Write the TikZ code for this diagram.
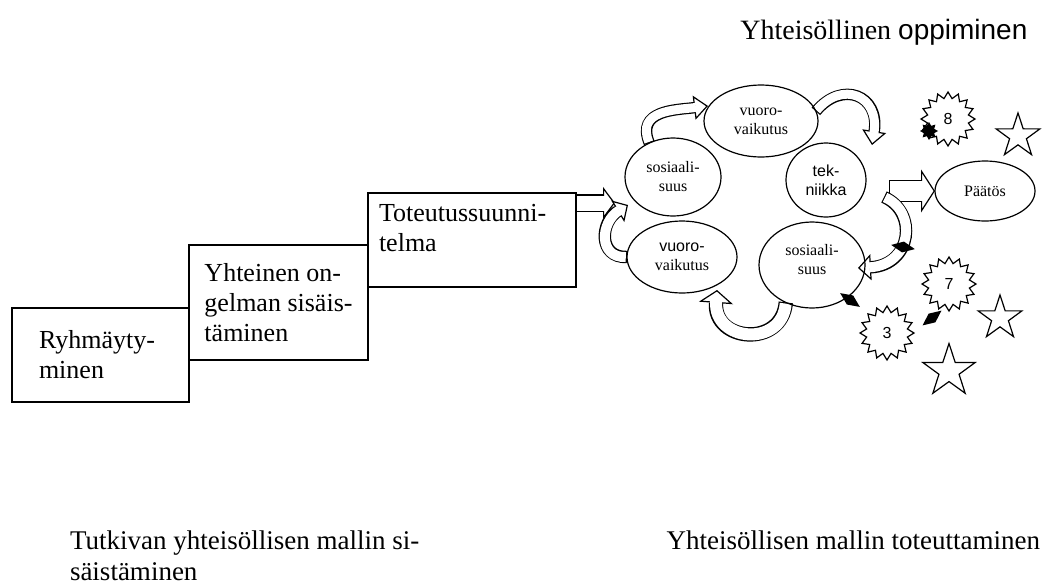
\documentclass[tikz,border=0pt]{standalone}
\usepackage{fontspec}
\setmainfont{Liberation Serif}
\newfontfamily\arial{Liberation Sans}
\usetikzlibrary{shapes.geometric,arrows.meta,backgrounds}

\newcommand{\bigtext}{\fontsize{26}{30}\selectfont}
\newcommand{\smalltext}{\fontsize{16}{19}\selectfont}
\newcommand{\foottext}{\fontsize{27}{31}\selectfont}

% block arrow: inner width, outer width, head width, head length, path
\newcommand{\blockarrow}[5]{%
  \draw[line width=#2, -{Triangle[fill=white, line width=1.2pt, length=#4, width=#3]}] #5;
  \draw[white, line width=#1, shorten <=1.2pt, shorten >=#4-1.8pt] #5;}

\begin{document}
\begin{tikzpicture}[x=1pt, y=-1pt, outer sep=0pt]

\tikzstyle{place}=[draw, rectangle, line width=1.2pt, align=left, anchor=north west, font=\bigtext]
\tikzstyle{cloud}=[draw, ellipse, line width=1.2pt, inner sep=0pt, align=center, font=\smalltext]
\tikzstyle{burst}=[draw, star, star points=16, star point ratio=1.3, line width=1.2pt, minimum size=54pt, inner sep=0pt, font=\arial\smalltext]
\tikzstyle{fivestar}=[draw, star, star points=5, star point ratio=2.6, line width=1.2pt, inner sep=0pt]
\tikzstyle{blackgem}=[fill, diamond, inner sep=0pt, minimum width=24pt, minimum height=11pt]

\useasboundingbox (0,0) rectangle (1049,587);

% steps
\node[place, minimum width=177pt, minimum height=94pt, inner xsep=27pt, text width=123pt] (ryhma) at (12,308) {Ryhmäyty-\\minen};
\node[place, minimum width=179pt, minimum height=115pt] (yhteinen) at (189,245) {Yhteinen on-\\gelman sisäis-\\täminen};
\node[place, minimum width=208pt, minimum height=94pt, inner xsep=11pt, text width=186pt] (toteutus) at (368,193) {Toteutussuunni-\\telma\\[-6pt]\mbox{}};

% cloud
\node[cloud, minimum width=114pt, minimum height=72pt] (vuoro1) at (761,121) {vuoro-\\vaikutus};
\node[cloud, minimum width=96pt, minimum height=78pt] (sos1) at (673,177) {sosiaali-\\suus};
\node[cloud, minimum width=80pt, minimum height=74pt, font=\arial\smalltext] (tek) at (826,180) {tek-\\niikka};
\node[cloud, minimum width=110pt, minimum height=72pt] (vuoro2) at (682,257) {{\arial vuoro-}\\vaikutus};
\node[cloud, minimum width=106pt, minimum height=86pt] (sos2) at (812,265) {sosiaali-\\suus\\[-8pt]\mbox{}};
\node[cloud, minimum width=100pt, minimum height=60pt] (paatos) at (985,191) {Päätös};

\node[burst] (b8) at (948,119) {8};
\node[burst] (b7) at (949,284) {7};
\node[burst] (b3) at (887,333) {3};
\node[fivestar, minimum size=46pt] (s1) at (1018,136) {};
\node[fivestar, minimum size=46pt] (s2) at (1000,318) {};
\node[fivestar, minimum size=55pt] (s3) at (949,371) {};
\node[fill, star, star points=8, star point ratio=1.6, minimum size=18pt, inner sep=0pt] (dot8) at (929,131) {};
\node[blackgem, rotate=-10] (gem1) at (903,247) {};
\node[blackgem, rotate=-35] (gem2) at (850,300) {};
\node[blackgem, rotate=38] (gem3) at (932,318) {};

% texts
\node[anchor=base west, font=\fontsize{28}{32}\selectfont] (title) at (737,39) {Yhteisöllinen {\arial oppiminen}};
\node[anchor=base west, inner sep=0pt, align=left, font=\foottext] (tutkiva) at (70,549) {Tutkivan yhteisöllisen mallin si-};
\node[anchor=base west, inner sep=0pt, font=\foottext] (tutkiva2) at (70,580) {säistäminen};
\node[anchor=base east, inner sep=0pt, font=\foottext] (toteutta) at (1040,549) {Yhteisöllisen mallin toteuttaminen};

% arrows
\coordinate (tip1) at (615,203);
\coordinate (tip2) at (628,205);
\coordinate (tip3) at (708,106);
\coordinate (tip4) at (872,145);
\coordinate (tail5) at (889,191);
\coordinate (tail7) at (884,197);
\coordinate (tip7) at (858,268);
\coordinate (tip8) at (717,290);
\begin{scope}[on background layer]
\blockarrow{15pt}{17.4pt}{32pt}{12pt}{(toteutus.east |- tip1) -- (tip1)}
\blockarrow{20pt}{22.4pt}{43pt}{14pt}{(tail5) -- (paatos.west)}
\blockarrow{10pt}{12.4pt}{25pt}{12pt}{(vuoro2.west) .. controls (598,258) and (600,222) .. (tip2)}
\blockarrow{9pt}{11.4pt}{24pt}{14pt}{(sos1.125) .. controls (636,110) and (675,110) .. (tip3)}
\blockarrow{9pt}{11.4pt}{24pt}{14pt}{(vuoro1.10) .. controls (842,80) and (880,95) .. (tip4)}
\blockarrow{10pt}{12.4pt}{26pt}{13pt}{(tail7) .. controls (918,212) and (912,265) .. (tip7)}
\blockarrow{12pt}{14.4pt}{34pt}{13pt}{(sos2.235) .. controls (782,348) and (713,342) .. (tip8)}
\end{scope}

\end{tikzpicture}
\end{document}
